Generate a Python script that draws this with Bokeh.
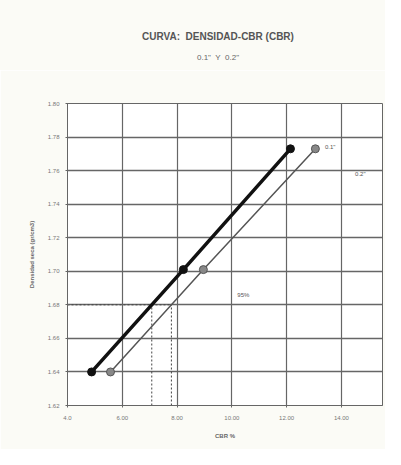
import numpy as np
from bokeh.plotting import figure
from bokeh.models import Label, FixedTicker, Div
from bokeh.layouts import column
from bokeh.embed import file_html
from bokeh.resources import INLINE

# ---- data ----
x_ticks = [4, 6, 8, 10, 12, 14, 16]
x_tick_labels = ["4.0", "6.00", "8.00", "10.00", "12.00", "14.00", "16.00"]
y_ticks = [1.62, 1.64, 1.66, 1.68, 1.70, 1.72, 1.74, 1.76, 1.78, 1.80]
y_tick_labels = ["1.62", "1.64", "1.66", "1.68", "1.70", "1.72", "1.74", "1.76", "1.78", "1.80"]

density = [1.640, 1.701, 1.773]
cbr_01 = [4.88, 8.23, 12.14]   # bold line
cbr_02 = [5.57, 8.96, 13.05]   # thin line
density_95 = 1.680

cbr95_01 = float(np.interp(density_95, density, cbr_01))
cbr95_02 = float(np.interp(density_95, density, cbr_02))

font = "Liberation Sans"
bg = "#fbfbf6"

header = Div(
    text=(f"<div style='position:relative;display:block;width:385px;height:70px;overflow:hidden;"
          f"background:{bg};font-family:\"{font}\";color:#555;'>"
          "<div style='position:absolute;left:51px;top:31px;width:334px;text-align:center;"
          "line-height:12px;font-size:10px;font-weight:bold;'>"
          "CURVA:&nbsp; DENSIDAD-CBR (CBR)</div>"
          "<div style='position:absolute;left:51px;top:53px;width:334px;text-align:center;"
          "line-height:10px;font-size:8px;color:#666;'>"
          "0.1\"&nbsp; Y&nbsp; 0.2\"</div></div>"),
    width=385, height=70, margin=0, styles={"background-color": bg})

p = figure(width=385, height=379, output_backend="svg", toolbar_location=None,
           x_range=(4, 15.5), y_range=(1.62, 1.80), margin=0,
           min_border_left=67, min_border_right=3, min_border_top=33, min_border_bottom=44)
p.background_fill_color = "#ffffff"
p.border_fill_color = bg
p.outline_line_color = "#666666"
p.outline_line_width = 1

p.xaxis.ticker = FixedTicker(ticks=x_ticks)
p.yaxis.ticker = FixedTicker(ticks=y_ticks)
p.xaxis.major_label_overrides = {t: l for t, l in zip(x_ticks, x_tick_labels)}
p.yaxis.major_label_overrides = {t: l for t, l in zip(y_ticks, y_tick_labels)}
for ax in (p.xaxis, p.yaxis):
    ax.major_label_text_font = font
    ax.major_label_text_font_size = "6px"
    ax.major_label_text_color = "#777777"
    ax.axis_line_color = "#666666"
    ax.major_tick_line_color = "#666666"
    ax.major_tick_in = 2
    ax.major_tick_out = 2
    ax.minor_tick_line_color = None
    ax.axis_label_text_font = font
    ax.axis_label_text_font_size = "6px"
    ax.axis_label_text_font_style = "bold"
    ax.axis_label_text_color = "#666666"
p.xaxis.axis_label = "CBR %"
p.yaxis.axis_label = "Densidad seca (gr/cm3)"
p.xaxis.major_label_standoff = 8
p.yaxis.major_label_standoff = 6
p.xaxis.axis_label_standoff = 10
p.yaxis.axis_label_standoff = 10

p.xgrid.grid_line_color = "#666666"
p.ygrid.grid_line_color = "#666666"
p.xgrid.grid_line_width = 1.2
p.ygrid.grid_line_width = 1.6

# 95% guide lines
p.line([4, cbr95_02], [density_95, density_95], line_color="#444444", line_width=1, line_dash="2 2")
p.line([cbr95_01, cbr95_01], [1.62, density_95], line_color="#444444", line_width=1, line_dash="2 2")
p.line([cbr95_02, cbr95_02], [1.62, density_95], line_color="#444444", line_width=1, line_dash="2 2")

# curves
p.line(cbr_02, density, line_color="#555555", line_width=1.5)
p.scatter(cbr_02, density, size=8, fill_color="#888888", line_color="#555555", line_width=1)
p.line(cbr_01, density, line_color="#111111", line_width=3.5)
p.scatter(cbr_01, density, size=8, fill_color="#111111", line_color="#111111")

# annotations
for txt, x, y in [("95%", 10.2, 1.686), ('0.1"', 13.4, 1.774), ('0.2"', 14.5, 1.758)]:
    p.add_layout(Label(x=x, y=y, text=txt, text_font=font, text_font_size="6px",
                       text_color="#555555", text_baseline="middle"))

layout = column(header, p, spacing=0, margin=0)
open("out.html", "w").write(file_html(layout, INLINE))
